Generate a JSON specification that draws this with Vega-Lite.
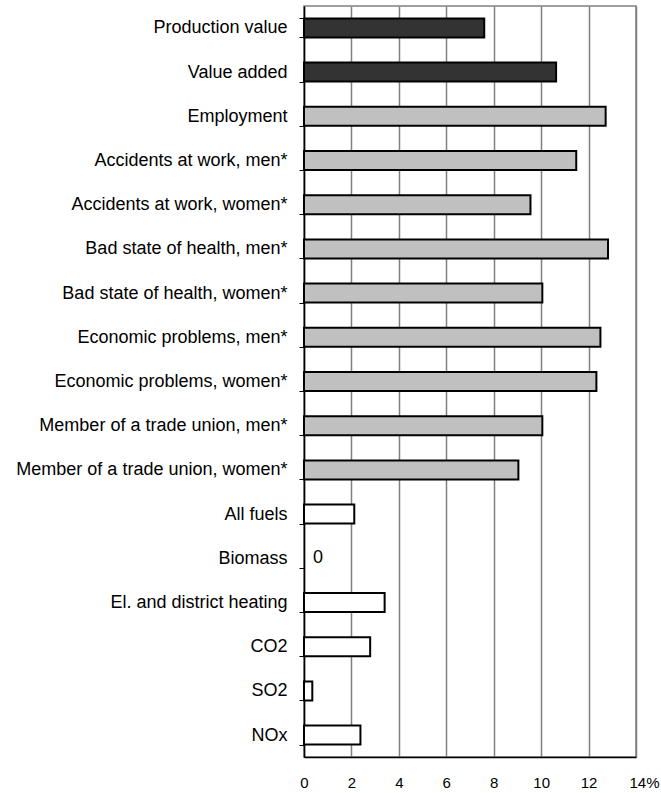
{
  "$schema": "https://vega.github.io/schema/vega-lite/v6.json",
  "autosize": {"type": "none"},
  "padding": {"left": 304, "top": 6, "right": 25, "bottom": 36},
  "width": 332,
  "height": 751,
  "background": "white",
  "config": {
    "font": "Liberation Sans",
    "view": {"stroke": "#808080", "strokeWidth": 1.5}
  },
  "data": {
    "values": [
      {"category": "Production value", "value": 7.6, "group": "economy"},
      {"category": "Value added", "value": 10.63, "group": "economy"},
      {"category": "Employment", "value": 12.72, "group": "social"},
      {"category": "Accidents at work, men*", "value": 11.48, "group": "social"},
      {"category": "Accidents at work, women*", "value": 9.55, "group": "social"},
      {"category": "Bad state of health, men*", "value": 12.82, "group": "social"},
      {"category": "Bad state of health, women*", "value": 10.05, "group": "social"},
      {"category": "Economic problems, men*", "value": 12.5, "group": "social"},
      {"category": "Economic problems, women*", "value": 12.33, "group": "social"},
      {"category": "Member of a trade union, men*", "value": 10.05, "group": "social"},
      {"category": "Member of a trade union, women*", "value": 9.04, "group": "social"},
      {"category": "All fuels", "value": 2.12, "group": "environment"},
      {"category": "Biomass", "value": 0, "group": "environment"},
      {"category": "El. and district heating", "value": 3.4, "group": "environment"},
      {"category": "CO2", "value": 2.79, "group": "environment"},
      {"category": "SO2", "value": 0.35, "group": "environment"},
      {"category": "NOx", "value": 2.38, "group": "environment"}
    ]
  },
  "encoding": {
    "y": {
      "field": "category",
      "type": "nominal",
      "sort": ["Production value", "Value added", "Employment", "Accidents at work, men*", "Accidents at work, women*", "Bad state of health, men*", "Bad state of health, women*", "Economic problems, men*", "Economic problems, women*", "Member of a trade union, men*", "Member of a trade union, women*", "All fuels", "Biomass", "El. and district heating", "CO2", "SO2", "NOx"],
      "title": null,
      "scale": {"paddingInner": 0.57, "paddingOuter": 0.28},
      "axis": {
        "tickBand": "extent",
        "tickSize": 5,
        "tickColor": "#000000",
        "domainColor": "#000000",
        "domainWidth": 1.5,
        "labelFontSize": 18,
        "labelColor": "#000000",
        "labelPadding": 12,
        "labelLimit": 300,
        "grid": false
      }
    },
    "x": {
      "field": "value",
      "type": "quantitative",
      "title": null,
      "scale": {"domain": [0, 14], "nice": false},
      "axis": {
        "values": [0, 2, 4, 6, 8, 10, 12, 14],
        "labelExpr": "datum.value == 14 ? '14%' : datum.label",
        "labelAlign": {"condition": {"test": "datum.value == 14", "value": "left"}, "value": "center"},
        "labelOffset": {"condition": {"test": "datum.value == 14", "value": -7}, "value": 0},
        "grid": true,
        "gridColor": "#808080",
        "gridWidth": 1.5,
        "ticks": false,
        "domainColor": "#000000",
        "domainWidth": 1.5,
        "labelFontSize": 15,
        "labelColor": "#000000",
        "labelPadding": 18
      }
    }
  },
  "layer": [
    {
      "mark": {"type": "bar", "stroke": "#000000", "strokeWidth": 2},
      "transform": [{"filter": "datum.value > 0"}],
      "encoding": {
        "color": {
          "field": "group",
          "type": "nominal",
          "scale": {"domain": ["economy", "social", "environment"], "range": ["#333333", "#c0c0c0", "#ffffff"]},
          "legend": null
        }
      }
    },
    {
      "mark": {"type": "text", "align": "left", "dx": 9, "fontSize": 18, "color": "#000000"},
      "transform": [{"filter": "datum.value == 0"}],
      "encoding": {"text": {"field": "value", "type": "quantitative"}}
    }
  ]
}
